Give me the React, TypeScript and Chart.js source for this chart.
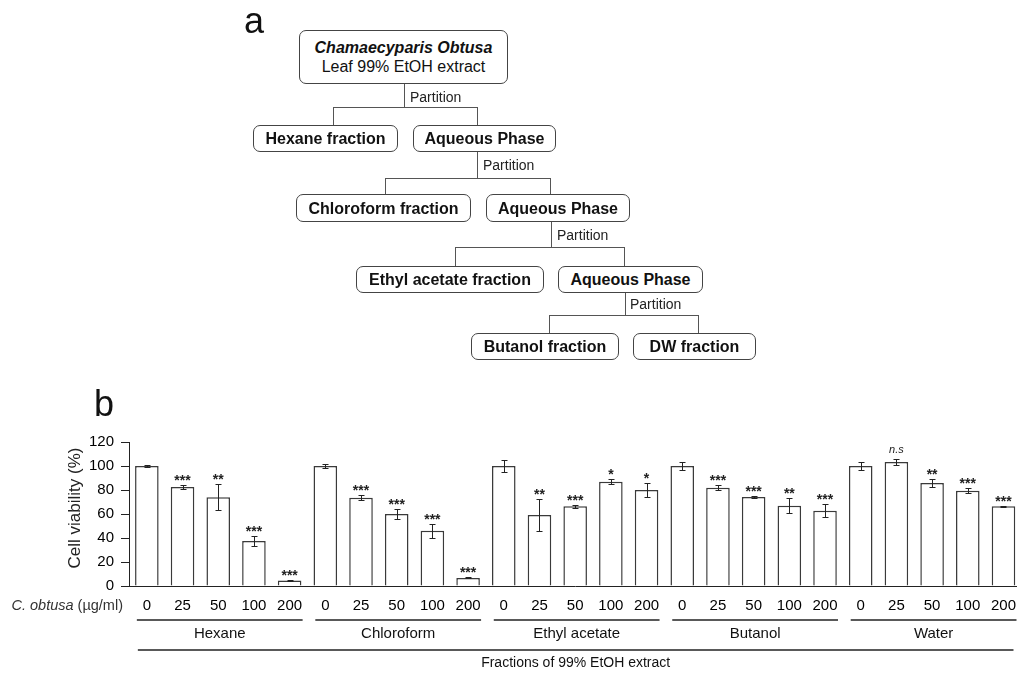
import React, { useEffect, useRef } from "react";
import { Chart, registerables } from "chart.js";

Chart.register(...registerables);

// ---------- data ----------
const groups = ["Hexane", "Chloroform", "Ethyl acetate", "Butanol", "Water"];
const doses = ["0", "25", "50", "100", "200"];

const hexaneMean = [100, 82.5, 74, 37.5, 4.5];
const hexaneErr = [0.5, 1.7, 11, 4, 0.5];
const hexaneSig = ["", "***", "**", "***", "***"];

const chloroformMean = [100, 73.6, 60, 46.1, 6.7];
const chloroformErr = [2, 2.2, 4.3, 5.7, 0.4];
const chloroformSig = ["", "***", "***", "***", "***"];

const ethylMean = [100, 59.2, 66.4, 86.9, 80];
const ethylErr = [5, 13, 1.2, 2, 6.2];
const ethylSig = ["", "**", "***", "*", "*"];

const butanolMean = [100, 81.9, 74.2, 66.9, 62.8];
const butanolErr = [3.3, 2, 1.2, 6.2, 5.7];
const butanolSig = ["", "***", "***", "**", "***"];

const waterMean = [100, 103.3, 85.8, 79.4, 66.4];
const waterErr = [3.3, 2.6, 3, 2, 0.5];
const waterSig = ["", "n.s", "**", "***", "***"];

const yMin = 0;
const yMax = 120;
const yStep = 20;

const yTitle = "Cell viability (%)";
const doseLabelItalic = "C. obtusa";
const doseLabelRest = " (µg/ml)";
const xTitle = "Fractions of 99% EtOH extract";

const FONT = "'Liberation Sans', Arial, Helvetica, sans-serif";

const labels = groups.flatMap(() => doses);
const means = [...hexaneMean, ...chloroformMean, ...ethylMean, ...butanolMean, ...waterMean];
const errs = [...hexaneErr, ...chloroformErr, ...ethylErr, ...butanolErr, ...waterErr];
const sigs = [...hexaneSig, ...chloroformSig, ...ethylSig, ...butanolSig, ...waterSig];

const annotate = {
  id: "annotate",
  afterDatasetsDraw(chart: any) {
    const ctx = chart.ctx;
    const meta = chart.getDatasetMeta(0);
    const ys = chart.scales.y;
    ctx.save();
    ctx.strokeStyle = "#222";
    ctx.fillStyle = "#222";
    ctx.lineWidth = 1;
    meta.data.forEach((bar: any, i: number) => {
      const cx = Math.round(bar.x) + 0.5;
      const hi = Math.round(ys.getPixelForValue(means[i] + errs[i])) + 0.5;
      const lo = Math.round(ys.getPixelForValue(means[i] - errs[i])) + 0.5;
      ctx.beginPath();
      ctx.moveTo(cx, hi);
      ctx.lineTo(cx, lo);
      ctx.moveTo(cx - 3, hi);
      ctx.lineTo(cx + 3, hi);
      ctx.moveTo(cx - 3, lo);
      ctx.lineTo(cx + 3, lo);
      ctx.stroke();
      const s = sigs[i];
      if (s) {
        ctx.textAlign = "center";
        ctx.textBaseline = "alphabetic";
        if (s === "n.s") {
          ctx.font = `italic 11px ${FONT}`;
          ctx.fillText(s, bar.x, hi - 7);
        } else {
          ctx.font = `bold 14px ${FONT}`;
          ctx.fillText(s, bar.x, hi - 1);
        }
      }
    });
    ctx.restore();
  },
  afterDraw(chart: any) {
    const ctx = chart.ctx;
    const meta = chart.getDatasetMeta(0);
    const area = chart.chartArea;
    const b = area.bottom;
    ctx.save();
    ctx.fillStyle = "#111";
    ctx.strokeStyle = "#222";
    // y title
    ctx.save();
    ctx.translate(75, 508);
    ctx.rotate(-Math.PI / 2);
    ctx.font = `17px ${FONT}`;
    ctx.textAlign = "center";
    ctx.textBaseline = "middle";
    ctx.fillStyle = "#222";
    ctx.fillText(yTitle, 0, 0);
    ctx.restore();
    // dose label
    ctx.textBaseline = "middle";
    ctx.textAlign = "right";
    ctx.font = `14.5px ${FONT}`;
    ctx.fillStyle = "#333";
    const restW = ctx.measureText(doseLabelRest).width;
    ctx.fillText(doseLabelRest, 123, b + 20);
    ctx.font = `italic 14.5px ${FONT}`;
    ctx.fillText(doseLabelItalic, 123 - restW, b + 20);
    // group lines and labels
    ctx.lineWidth = 1.5;
    ctx.fillStyle = "#111";
    ctx.font = `15px ${FONT}`;
    ctx.textAlign = "center";
    groups.forEach((g, gi) => {
      const x1 = meta.data[gi * doses.length].x - 10;
      const x2 = meta.data[gi * doses.length + doses.length - 1].x + 13;
      ctx.beginPath();
      ctx.moveTo(x1, b + 34);
      ctx.lineTo(x2, b + 34);
      ctx.stroke();
      ctx.fillText(g, (x1 + x2) / 2, b + 48);
    });
    // long line
    const lx1 = meta.data[0].x - 9;
    const lx2 = meta.data[meta.data.length - 1].x + 10;
    ctx.beginPath();
    ctx.moveTo(lx1, b + 64);
    ctx.lineTo(lx2, b + 64);
    ctx.stroke();
    ctx.font = `14px ${FONT}`;
    ctx.fillText(xTitle, (lx1 + lx2) / 2, b + 77);
    ctx.restore();
  },
};

type BoxProps = { x1: number; y1: number; x2: number; y2: number; children: any };
function Box({ x1, y1, x2, y2, children }: BoxProps) {
  return (
    <div
      style={{
        position: "absolute",
        left: x1,
        top: y1,
        width: x2 - x1,
        height: y2 - y1,
        boxSizing: "border-box",
        border: "1px solid #444",
        borderRadius: 7,
        display: "flex",
        flexDirection: "column",
        alignItems: "center",
        justifyContent: "center",
        fontWeight: "bold",
        fontSize: 16,
        color: "#111",
        background: "#fff",
        lineHeight: "19px",
      }}
    >
      {children}
    </div>
  );
}

function HLine({ x1, x2, y }: { x1: number; x2: number; y: number }) {
  return <div style={{ position: "absolute", left: x1, top: y, width: x2 - x1 + 1, height: 1, background: "#555" }} />;
}
function VLine({ x, y1, y2 }: { x: number; y1: number; y2: number }) {
  return <div style={{ position: "absolute", left: x, top: y1, width: 1, height: y2 - y1, background: "#555" }} />;
}
function Split({ x, y0, y, xa, xb, y1, tx, ty }: any) {
  return (
    <>
      <VLine x={x} y1={y0} y2={y} />
      <HLine x1={xa} x2={xb} y={y} />
      <VLine x={xa} y1={y} y2={y1} />
      <VLine x={xb} y1={y} y2={y1} />
      <div style={{ position: "absolute", left: tx, top: ty - 8, fontSize: 14, lineHeight: "16px", color: "#222" }}>Partition</div>
    </>
  );
}

export default function App() {
  const ref = useRef<HTMLCanvasElement | null>(null);
  useEffect(() => {
    if (!ref.current) return;
    const chart = new Chart(ref.current, {
      type: "bar",
      data: {
        labels,
        datasets: [
          {
            data: means,
            backgroundColor: "#fff",
            borderColor: "#3a3a3a",
            borderWidth: 1.5,
            barPercentage: 0.66,
            categoryPercentage: 1,
          },
        ],
      },
      options: {
        responsive: false,
        animation: false,
        devicePixelRatio: 1,
        layout: { padding: { top: 442, left: 0, right: 0, bottom: 0 } },
        plugins: { legend: { display: false }, tooltip: { enabled: false }, title: { display: false } },
        scales: {
          x: {
            grid: { display: false, drawTicks: false },
            border: { display: true, color: "#222", width: 1 },
            ticks: { color: "#000", font: { family: FONT, size: 15 }, padding: 11, maxRotation: 0, autoSkip: false },
            afterFit: (s: any) => {
              s.height = 88;
            },
          },
          y: {
            min: yMin,
            max: yMax,
            grid: { display: true, drawOnChartArea: false, drawTicks: true, tickLength: 8, color: "#222" },
            border: { display: true, color: "#222", width: 1 },
            ticks: { stepSize: yStep, color: "#000", font: { family: FONT, size: 15 }, padding: 7 },
            afterFit: (s: any) => {
              s.width = 129;
            },
          },
        },
      },
      plugins: [annotate],
    } as any);
    return () => chart.destroy();
  }, []);

  return (
    <div
      style={{
        position: "fixed",
        left: 0,
        top: 0,
        width: 1017,
        height: 674,
        overflow: "hidden",
        background: "#fff",
        fontFamily: FONT,
      }}
    >
      <canvas ref={ref} width={1027} height={674} style={{ position: "absolute", left: 0, top: 0, width: 1027, height: 674 }} />
      <div style={{ position: "absolute", left: 244, top: 3, fontSize: 36, lineHeight: "36px", color: "#111" }}>a</div>
      <div style={{ position: "absolute", left: 94, top: 386, fontSize: 36, lineHeight: "36px", color: "#111" }}>b</div>

      <Box x1={299} y1={30} x2={508} y2={84}>
        <div style={{ fontStyle: "italic" }}>Chamaecyparis Obtusa</div>
        <div style={{ fontWeight: "normal" }}>Leaf 99% EtOH extract</div>
      </Box>
      <Split x={404} y0={84} y={107} xa={333} xb={477} y1={125} tx={410} ty={97} />
      <Box x1={253} y1={125} x2={398} y2={152}>Hexane fraction</Box>
      <Box x1={413} y1={125} x2={556} y2={152}>Aqueous Phase</Box>
      <Split x={477} y0={152} y={178} xa={385} xb={550} y1={194} tx={483} ty={165} />
      <Box x1={296} y1={194} x2={471} y2={222}>Chloroform fraction</Box>
      <Box x1={486} y1={194} x2={630} y2={222}>Aqueous Phase</Box>
      <Split x={551} y0={222} y={247} xa={455} xb={624} y1={266} tx={557} ty={235} />
      <Box x1={356} y1={266} x2={544} y2={293}>Ethyl acetate fraction</Box>
      <Box x1={558} y1={266} x2={703} y2={293}>Aqueous Phase</Box>
      <Split x={625} y0={293} y={315} xa={549} xb={698} y1={333} tx={630} ty={304} />
      <Box x1={471} y1={333} x2={619} y2={360}>Butanol fraction</Box>
      <Box x1={633} y1={333} x2={756} y2={360}>DW fraction</Box>
    </div>
  );
}
